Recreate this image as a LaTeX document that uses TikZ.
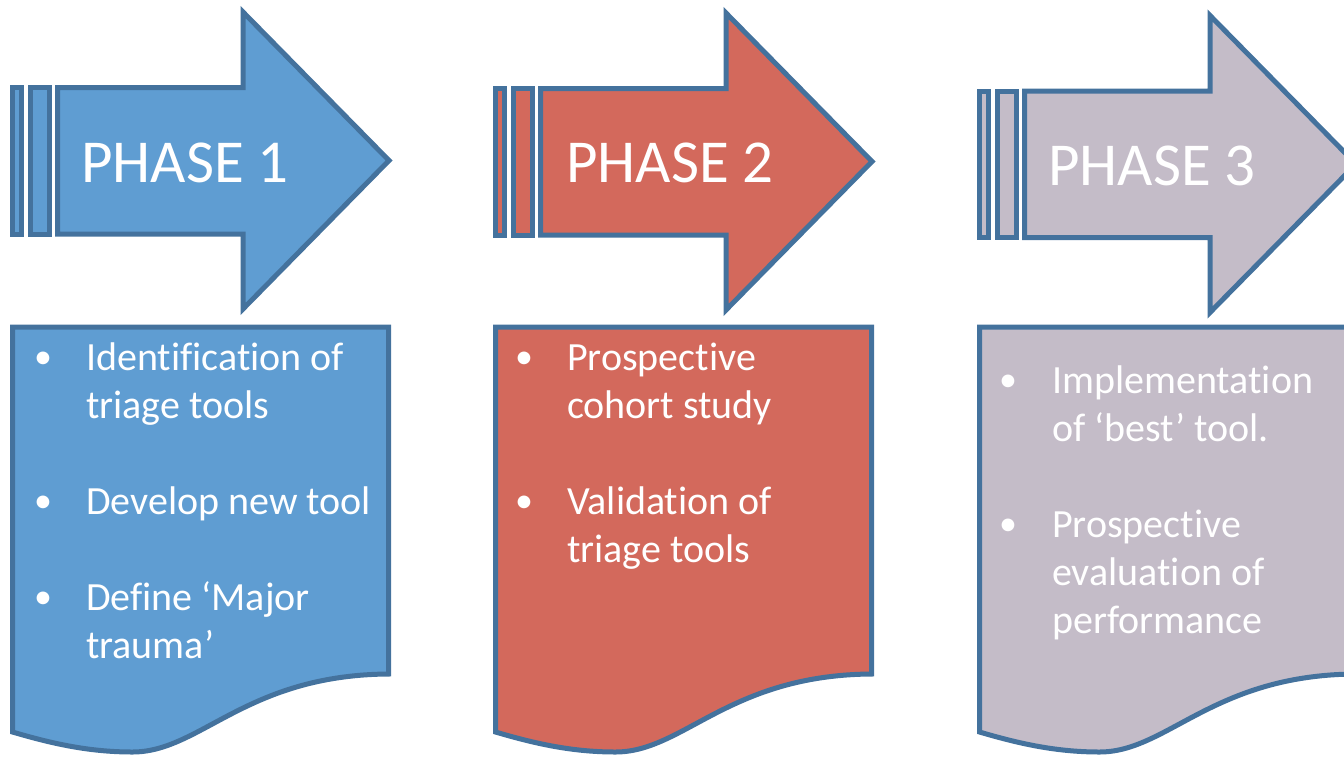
\documentclass[tikz,border=0pt]{standalone}
\usepackage{fontspec}
\setmainfont{Carlito}[Ligatures=NoCommon]
\usepackage{xcolor}
\usepackage{tikz}
\definecolor{phaseblue}{HTML}{5F9DD2}
\definecolor{phasered}{HTML}{D3695C}
\definecolor{phaselilac}{HTML}{C4BCC8}
\definecolor{edgeblue}{HTML}{44729D}

\begin{document}
\begin{tikzpicture}[x=1pt, y=-1pt,
    shape/.style={draw=edgeblue, line width=5pt, line join=miter, fill=#1},
    title/.style={font=\fontsize{61}{70}\selectfont, text=white, anchor=base west, inner sep=0pt},
    bul/.style={font=\fontsize{36}{48}\selectfont, text=white, anchor=base west, inner sep=0pt},
    itemtext/.style={font=\fontsize{40}{48}\selectfont, text=white, anchor=base west, inner sep=0pt}
]
\useasboundingbox (0,0) rectangle (1344,756);

% striped arrows and document shapes, one per phase
\foreach \dx/\dy/\col in {0/0/phaseblue, 483/1/phasered, 967/3.5/phaselilac} {
  \draw[shape=\col] (12+\dx,87.5+\dy) rectangle (21.5+\dx,234+\dy);
  \draw[shape=\col] (30+\dx,87.5+\dy) rectangle (49+\dx,234+\dy);
  \draw[shape=\col] (57.5+\dx,87.5+\dy) -- (243+\dx,87.5+\dy) -- (243+\dx,12+\dy)
      -- (389+\dx,160.5+\dy) -- (243+\dx,309+\dy) -- (243+\dx,234+\dy)
      -- (57.5+\dx,234+\dy) -- cycle;
  \draw[shape=\col] (12.5+\dx,327) -- (388.5+\dx,327) -- (388.5+\dx,674)
      .. controls (245.5+\dx,675) and (200.5+\dx,752) .. (132.5+\dx,752)
      .. controls (87.5+\dx,752) and (50+\dx,743) .. (12.5+\dx,732) -- cycle;
}

\node[title] (p1) at (81,182) {PHASE 1};
\node[title] (p2) at (566,182) {PHASE 2};
\node[title] (p3) at (1048,185) {PHASE 3};

% phase 1
\node[bul] (b1a) at (34,368) {•};
\node[itemtext] (t1a) at (86,370) {\parbox[t]{300pt}{Identification of\\triage tools}};
\node[bul] (b1b) at (34,512) {•};
\node[itemtext] (t1b) at (86,514) {\parbox[t]{300pt}{Develop new tool}};
\node[bul] (b1c) at (34,608) {•};
\node[itemtext] (t1c) at (86,610) {\parbox[t]{300pt}{Define ‘Major\\trauma’}};

% phase 2
\node[bul] (b2a) at (515,368) {•};
\node[itemtext] (t2a) at (567,370) {\parbox[t]{300pt}{Prospective\\cohort study}};
\node[bul] (b2b) at (515,512) {•};
\node[itemtext] (t2b) at (567,514) {\parbox[t]{300pt}{Validation of\\triage tools}};

% phase 3
\node[bul] (b3a) at (999,391) {•};
\node[itemtext] (t3a) at (1052,393) {\parbox[t]{300pt}{Implementation\\of ‘best’ tool.}};
\node[bul] (b3b) at (999,535) {•};
\node[itemtext] (t3b) at (1052,537) {\parbox[t]{300pt}{Prospective\\evaluation of\\performance}};
\end{tikzpicture}
\end{document}
